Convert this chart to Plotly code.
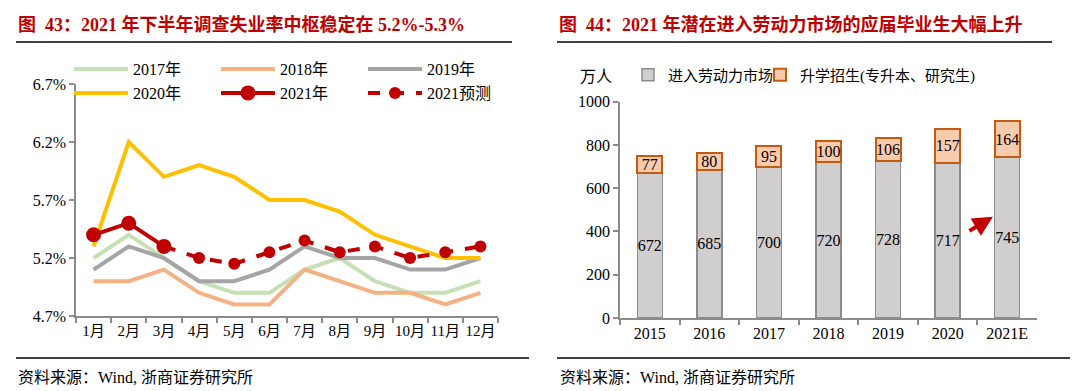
import plotly.graph_objects as go

W, H = 1080, 391
OFF = 8  # page body margin offset

# ---------------- data ----------------
months = ["1月", "2月", "3月", "4月", "5月", "6月", "7月", "8月", "9月", "10月", "11月", "12月"]
u2017 = [5.2, 5.4, 5.2, 5.0, 4.9, 4.9, 5.1, 5.2, 5.0, 4.9, 4.9, 5.0]
u2018 = [5.0, 5.0, 5.1, 4.9, 4.8, 4.8, 5.1, 5.0, 4.9, 4.9, 4.8, 4.9]
u2019 = [5.1, 5.3, 5.2, 5.0, 5.0, 5.1, 5.3, 5.2, 5.2, 5.1, 5.1, 5.2]
u2020 = [5.3, 6.2, 5.9, 6.0, 5.9, 5.7, 5.7, 5.6, 5.4, 5.3, 5.2, 5.2]
u2021 = [5.4, 5.5, 5.3, None, None, None, None, None, None, None, None, None]
u2021f = [None, None, 5.3, 5.2, 5.15, 5.25, 5.35, 5.25, 5.3, 5.2, 5.25, 5.3]
pct_ticks = [4.7, 5.2, 5.7, 6.2, 6.7]
pct_labels = ["4.7%", "5.2%", "5.7%", "6.2%", "6.7%"]

years = ["2015", "2016", "2017", "2018", "2019", "2020", "2021E"]
labor = [672, 685, 700, 720, 728, 717, 745]
further = [77, 80, 95, 100, 106, 157, 164]
bar_ticks = [0, 200, 400, 600, 800, 1000]

FONT = "Liberation Serif, Noto Sans CJK SC, serif"
RED = "#c00000"
AX = "#8c8c8c"


def px(x):
    return (x - OFF) / W


def py(y):
    return 1 - (y - OFF) / H


fig = go.Figure()

line_specs = [
    ("2017年", u2017, "#c5e0b4", "legend"),
    ("2018年", u2018, "#f4b183", "legend"),
    ("2019年", u2019, "#a5a5a5", "legend"),
    ("2020年", u2020, "#ffc000", "legend2"),
]
for name, vals, col, lg in line_specs:
    fig.add_trace(go.Scatter(x=months, y=vals, name=name, mode="lines",
                             line=dict(color=col, width=4), legend=lg,
                             xaxis="x", yaxis="y"))

fig.add_trace(go.Scatter(x=months, y=u2021, name="2021年", mode="lines+markers",
                         line=dict(color=RED, width=4),
                         marker=dict(size=15, color=RED),
                         legend="legend2", xaxis="x", yaxis="y"))
fig.add_trace(go.Scatter(x=months, y=u2021f, name="2021预测", mode="lines+markers",
                         line=dict(color=RED, width=4, dash="dash"),
                         marker=dict(size=12, color=RED),
                         legend="legend2", xaxis="x", yaxis="y"))

fig.add_trace(go.Bar(x=years, y=labor, name="进入劳动力市场",
                     marker=dict(color="#d0cece", line=dict(color="#8c8c8c", width=1.5)),
                     width=0.42, text=[str(v) for v in labor],
                     textposition="inside", insidetextanchor="middle",
                     textangle=0, constraintext="none",
                     textfont=dict(family=FONT, size=16, color="#000000"),
                     legend="legend3", xaxis="x2", yaxis="y2"))
fig.add_trace(go.Bar(x=years, y=further, name="升学招生(专升本、研究生)",
                     marker=dict(color="#f8cbad", line=dict(color="#c55a11", width=2)),
                     width=0.42, text=[str(v) for v in further],
                     textposition="inside", insidetextanchor="middle",
                     textangle=0, constraintext="none",
                     textfont=dict(family=FONT, size=16, color="#000000"),
                     legend="legend4", xaxis="x2", yaxis="y2"))

axis_common = dict(showline=True, linecolor=AX, linewidth=1.5, ticks="outside",
                   tickcolor=AX, tickwidth=1.5, ticklen=5, showgrid=False,
                   zeroline=False, tickfont=dict(family=FONT, size=16, color="#000000"),
                   fixedrange=True, automargin=False)

shapes = []
for (x0, x1, y) in [(16, 512, 42), (557, 1052, 42), (16, 529, 358), (557, 1070, 358)]:
    shapes.append(dict(type="line", xref="paper", yref="paper", x0=px(x0), x1=px(x1),
                       y0=py(y), y1=py(y), layer="above",
                       line=dict(color="#000000", width=1.5)))

leg_common = dict(orientation="h", xanchor="left", yanchor="middle",
                  bgcolor="rgba(0,0,0,0)", tracegroupgap=0)

fig.update_layout(
    width=W, height=H,
    margin=dict(l=0, r=0, t=0, b=0, autoexpand=False),
    paper_bgcolor="white", plot_bgcolor="white",
    barmode="stack",
    font=dict(family=FONT, size=16, color="#000000"),
    xaxis=dict(domain=[px(76), px(498)], anchor="y", type="category",
               range=[-0.5, 11.5], tickson="boundaries", tickangle=0,
               **{**axis_common, "tickfont": dict(family=FONT, size=15, color="#000000")}),
    yaxis=dict(domain=[py(316), py(84)], anchor="x", range=[4.7, 6.7],
               tickvals=pct_ticks, ticktext=pct_labels, **axis_common),
    xaxis2=dict(domain=[px(620), px(1037)], anchor="y2", type="category",
                range=[-0.5, 6.5], tickson="boundaries", tickangle=0, **axis_common),
    yaxis2=dict(domain=[py(318), py(101.7)], anchor="x2", range=[0, 1000],
                tickvals=bar_ticks, **axis_common),
    legend=dict(x=px(69), y=py(69), entrywidth=78, itemwidth=54,
                font=dict(family=FONT, size=16), **leg_common),
    legend2=dict(x=px(69), y=py(93), entrywidth=78, itemwidth=54,
                 font=dict(family=FONT, size=16), **leg_common),
    legend3=dict(x=px(628), y=py(75), itemwidth=30,
                 font=dict(family=FONT, size=15), **leg_common),
    legend4=dict(x=px(760), y=py(75), itemwidth=30,
                 font=dict(family=FONT, size=15), **leg_common),
    showlegend=True,
    shapes=shapes,
)

# titles
fig.add_annotation(text="<b>图  43：2021 年下半年调查失业率中枢稳定在 5.2%-5.3%</b>",
                   xref="paper", yref="paper", x=px(16), y=py(25), xanchor="left",
                   yanchor="middle", showarrow=False,
                   font=dict(family=FONT, size=18, color=RED))
fig.add_annotation(text="<b>图  44：2021 年潜在进入劳动力市场的应届毕业生大幅上升</b>",
                   xref="paper", yref="paper", x=px(557), y=py(25), xanchor="left",
                   yanchor="middle", showarrow=False,
                   font=dict(family=FONT, size=18, color=RED))
# sources
for x0 in (16, 558):
    fig.add_annotation(text="资料来源：Wind, 浙商证券研究所", xref="paper", yref="paper",
                       x=px(x0), y=py(377), xanchor="left", yanchor="middle",
                       showarrow=False, font=dict(family=FONT, size=16, color="#000000"))
# unit
fig.add_annotation(text="万人", xref="paper", yref="paper", x=px(596), y=py(76),
                   xanchor="center", yanchor="middle", showarrow=False,
                   font=dict(family=FONT, size=16, color="#000000"))
# arrow
fig.add_annotation(x=5.76, y=468, xref="x2", yref="y2", ax=-25, ay=15,
                   axref="pixel", ayref="pixel", showarrow=True, arrowhead=2,
                   arrowsize=1, arrowwidth=4, arrowcolor=RED, text="")

fig.write_html("out.html")
